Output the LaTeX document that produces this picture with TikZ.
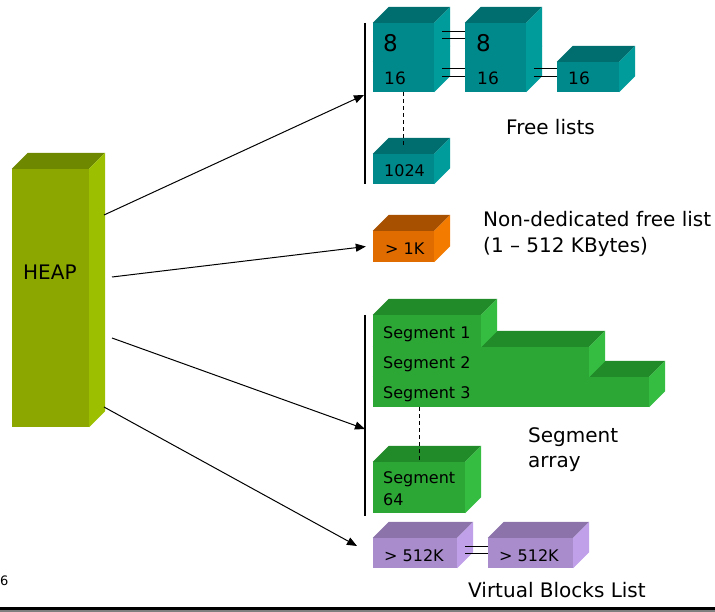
\documentclass[tikz,border=0pt]{standalone}
\usepackage{fontspec}
\setmainfont{DejaVu Sans}
\usetikzlibrary{arrows.meta}
\definecolor{hpF}{HTML}{8CA800}
\definecolor{hpT}{HTML}{6E8800}
\definecolor{hpS}{HTML}{9CC000}
\definecolor{tlF}{HTML}{00898A}
\definecolor{tlT}{HTML}{006E6E}
\definecolor{tlS}{HTML}{009B9B}
\definecolor{ogF}{HTML}{E06C00}
\definecolor{ogT}{HTML}{A65000}
\definecolor{ogS}{HTML}{F27B00}
\definecolor{grF}{HTML}{2CA635}
\definecolor{grT}{HTML}{218A29}
\definecolor{grS}{HTML}{34BD41}
\definecolor{puF}{HTML}{A88CCC}
\definecolor{puT}{HTML}{8C74AA}
\definecolor{puS}{HTML}{C0A0E8}
\tikzset{
  cubefront/.style={rectangle, inner sep=0pt, draw=none},
  lbl/.style={anchor=base west, inner sep=0pt, font=\fontsize{16}{19}\selectfont},
  title/.style={anchor=base west, inner sep=0pt, font=\fontsize{20}{24}\selectfont},
  conn/.style={line width=1pt, -{Triangle[length=10pt,width=8pt]}},
  link/.style={line width=1pt},
  dashlink/.style={line width=1pt, dash pattern=on 4pt off 3pt},
  bracket/.style={line width=1.2pt}
}
\newcommand\mycube[6]{%
  \node[cubefront, fill=#6F, minimum width={(#4-#2)*1pt}, minimum height={(#5-#3)*1pt}] (#1) at ({(#2+#4)/2},{(#3+#5)/2}) {};
  \fill[#6T] (#1.north west) -- ++(16,-16) -- ([shift={(16,-16)}]#1.north east) -- (#1.north east) -- cycle;
  \fill[#6S] (#1.north east) -- ++(16,-16) -- ([shift={(16,-16)}]#1.south east) -- (#1.south east) -- cycle;
}
\begin{document}
\begin{tikzpicture}[x=1pt,y=-1pt]
\useasboundingbox (0,0) rectangle (715,612);
% HEAP
\mycube{heap}{12}{169}{89}{427}{hp}
\node[title] (heaplbl) at (23,280) {HEAP};
% Free lists
\mycube{f16a}{373}{62}{434}{92}{tl}
\mycube{f8a}{373}{23}{434}{62}{tl}
\mycube{f16b}{465}{62}{526}{92}{tl}
\mycube{f8b}{465}{23}{526}{62}{tl}
\mycube{f16c}{557}{62}{619}{92}{tl}
\mycube{f1024}{373}{154}{434}{184}{tl}
\node[lbl, font=\fontsize{23}{26}\selectfont] (l8a) at (383,52) {8};
\node[lbl, font=\fontsize{23}{26}\selectfont] (l8b) at (476,52) {8};
\node[lbl, font=\fontsize{17}{20}\selectfont] (l16a) at (384,85) {16};
\node[lbl, font=\fontsize{17}{20}\selectfont] (l16b) at (477,85) {16};
\node[lbl, font=\fontsize{17}{20}\selectfont] (l16c) at (568,85) {16};
\node[lbl] (l1024) at (384,177) {1024};
\draw[link] ([xshift=8pt,yshift=10.5pt]f8a.east) -- ([yshift=10.5pt]f8b.west);
\draw[link] ([xshift=8pt,yshift=3.5pt]f8a.east) -- ([yshift=3.5pt]f8b.west);
\draw[link] ([xshift=8pt,yshift=8pt]f16a.east) -- ([yshift=8pt]f16b.west);
\draw[link] ([xshift=8pt]f16a.east) -- (f16b.west);
\draw[link] ([xshift=8pt,yshift=8pt]f16b.east) -- ([yshift=8pt]f16c.west);
\draw[link] ([xshift=8pt]f16b.east) -- (f16c.west);
\draw[dashlink] (f16a.south) -- ([yshift=7pt]f1024.north);
\node[title] (tfree) at (506,135) {Free lists};
% Non-dedicated
\mycube{ndf}{373}{231}{434}{262}{og}
\node[lbl] (l1k) at (385,255) {> 1K};
\node[title] (tnd1) at (483,227) {Non-dedicated free list};
\node[title] (tnd2) at (483,253) {(1 – 512 KBytes)};
% Segments
\mycube{seg3}{373}{377}{649}{407}{gr}
\mycube{seg2}{373}{347}{589}{377}{gr}
\mycube{seg1}{373}{315}{481}{347}{gr}
\mycube{seg64}{373}{462}{465}{513}{gr}
\node[lbl] (ls1) at (383,338) {Segment 1};
\node[lbl] (ls2) at (383,368) {Segment 2};
\node[lbl] (ls3) at (383,398) {Segment 3};
\node[lbl] (ls64a) at (383,483) {Segment};
\node[lbl] (ls64b) at (383,505) {64};
\draw[dashlink] (seg64.north |- seg3.south) -- (seg64.north);
\node[title] (tseg1) at (528,442) {Segment};
\node[title] (tseg2) at (528,467) {array};
% Virtual blocks
\mycube{vb1}{373}{538}{457}{568}{pu}
\mycube{vb2}{488}{538}{573}{568}{pu}
\node[lbl] (lvb1) at (384,561) {> 512K};
\node[lbl] (lvb2) at (499,561) {> 512K};
\draw[link] ([xshift=8pt,yshift=7pt]vb1.east) -- ([yshift=7pt]vb2.west);
\draw[link] ([xshift=8pt]vb1.east) -- (vb2.west);
\node[title] (tvb) at (468,597) {Virtual Blocks List};
% brackets
\coordinate (flT) at (365,23);
\coordinate (flB) at (365,184);
\coordinate (sgT) at (365,315);
\coordinate (sgB) at (365,516);
\draw[bracket] (flT) -- (flB);
\draw[bracket] (sgT) -- (sgB);
% arrows
\coordinate (h1) at (104,215);
\coordinate (h2) at (112,277);
\coordinate (h3) at (112,338);
\coordinate (h4) at (104,407);
\coordinate (t1) at (364,95);
\coordinate (t3) at (365,429);
\coordinate (t4) at (357,546);
\draw[conn] (h1) -- (t1);
\draw[conn] (h2) -- ([xshift=-7pt]ndf.west);
\draw[conn] (h3) -- (t3);
\draw[conn] (h4) -- (t4);
% page number and bottom bar
\node[anchor=base west, inner sep=0pt, font=\fontsize{13}{15}\selectfont] (pg) at (0,585) {6};
\fill[black] (0,607) rectangle (715,610);
\fill[gray] (0,610) rectangle (715,612);
\end{tikzpicture}
\end{document}
